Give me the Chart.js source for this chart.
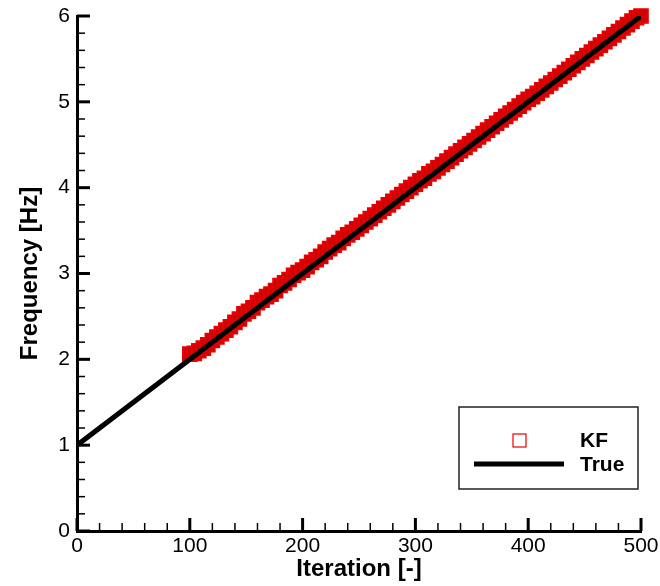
<!DOCTYPE html>
<html>
<head>
<meta charset="utf-8">
<script src="https://cdn.jsdelivr.net/npm/chart.js@4/dist/chart.umd.min.js"></script>
<style>
  html, body { margin: 0; padding: 0; background: #fff; }
  #wrap { width: 660px; height: 586px; }
</style>
</head>
<body>
<div id="wrap"><canvas id="chart" width="660" height="586"></canvas></div>
<script>
'use strict';

// ── Data ──────────────────────────────────────────────────────────────────────

const kfIterations = [
  100, 104, 108, 112, 116, 120, 124, 128, 132, 136, 140, 144, 148, 152, 156, 160, 164, 168, 172, 176,
  180, 184, 188, 192, 196, 200, 204, 208, 212, 216, 220, 224, 228, 232, 236, 240, 244, 248, 252, 256,
  260, 264, 268, 272, 276, 280, 284, 288, 292, 296, 300, 304, 308, 312, 316, 320, 324, 328, 332, 336,
  340, 344, 348, 352, 356, 360, 364, 368, 372, 376, 380, 384, 388, 392, 396, 400, 404, 408, 412, 416,
  420, 424, 428, 432, 436, 440, 444, 448, 452, 456, 460, 464, 468, 472, 476, 480, 484, 488, 492, 496, 500
];
const kfFrequency = [
  2.06, 2.07, 2.10, 2.13, 2.17, 2.22, 2.26, 2.30, 2.34, 2.38, 2.43, 2.47, 2.53, 2.56, 2.60, 2.66, 2.69, 2.73, 2.76, 2.80,
  2.86, 2.89, 2.93, 2.98, 3.01, 3.04, 3.08, 3.13, 3.16, 3.20, 3.25, 3.29, 3.33, 3.36, 3.41, 3.45, 3.48, 3.52, 3.56, 3.60,
  3.64, 3.68, 3.72, 3.76, 3.80, 3.84, 3.88, 3.92, 3.96, 4.00, 4.04, 4.08, 4.11, 4.16, 4.19, 4.23, 4.27, 4.31, 4.35, 4.39,
  4.43, 4.47, 4.51, 4.55, 4.59, 4.63, 4.67, 4.71, 4.75, 4.79, 4.83, 4.87, 4.91, 4.95, 4.99, 5.03, 5.06, 5.10, 5.14, 5.18,
  5.22, 5.26, 5.30, 5.34, 5.38, 5.42, 5.46, 5.50, 5.54, 5.58, 5.62, 5.66, 5.70, 5.74, 5.78, 5.82, 5.86, 5.90, 5.94, 5.98, 6.00
];

const trueIterations = [0, 500];
const trueFrequency  = [1, 6];

const xLabels = ['0', '100', '200', '300', '400', '500'];
const yLabels = ['0', '1', '2', '3', '4', '5', '6'];

const RED   = '#e60000';
const BLACK = '#000000';
const FONT  = "'Liberation Sans', Arial, Helvetica, sans-serif";

// ── Plugins ───────────────────────────────────────────────────────────────────

// inward tick marks, major on labelled values, minor otherwise
const inwardTicks = {
  id: 'inwardTicks',
  afterDraw(chart) {
    const { ctx, chartArea: a, scales: { x, y } } = chart;
    ctx.save();
    ctx.strokeStyle = BLACK;
    x.ticks.forEach(t => {
      const major = Math.abs(t.value % 100) < 1e-6;
      const px = x.getPixelForValue(t.value);
      ctx.lineWidth = major ? 3 : 1.5;
      ctx.beginPath();
      ctx.moveTo(px, a.bottom);
      ctx.lineTo(px, a.bottom - (major ? 13 : 8));
      ctx.stroke();
    });
    y.ticks.forEach(t => {
      const major = Math.abs(t.value - Math.round(t.value)) < 1e-6;
      const py = y.getPixelForValue(t.value);
      ctx.lineWidth = major ? 3 : 1.5;
      ctx.beginPath();
      ctx.moveTo(a.left, py);
      ctx.lineTo(a.left + (major ? 13 : 8), py);
      ctx.stroke();
    });
    ctx.restore();
  }
};

// boxed legend in the lower right of the plot
const boxLegend = {
  id: 'boxLegend',
  afterDraw(chart) {
    const { ctx, chartArea: a } = chart;
    const bx = a.right - 182, by = a.bottom - 124, bw = 179, bh = 82;
    ctx.save();
    ctx.fillStyle = '#fff';
    ctx.fillRect(bx, by, bw, bh);
    ctx.strokeStyle = '#222';
    ctx.lineWidth = 1.5;
    ctx.strokeRect(bx, by, bw, bh);

    const kf = chart.data.datasets[1];
    const tr = chart.data.datasets[0];

    ctx.strokeStyle = kf.pointBorderColor;
    ctx.lineWidth = 1.2;
    ctx.strokeRect(bx + 54, by + 27, 13, 13);

    ctx.strokeStyle = tr.borderColor;
    ctx.lineWidth = tr.borderWidth;
    ctx.beginPath();
    ctx.moveTo(bx + 15, by + 57);
    ctx.lineTo(bx + 105, by + 57);
    ctx.stroke();

    ctx.fillStyle = BLACK;
    ctx.font = `bold 21px ${FONT}`;
    ctx.textBaseline = 'middle';
    ctx.fillText(kf.label, bx + 121, by + 34);
    ctx.fillText(tr.label, bx + 121, by + 58);
    ctx.restore();
  }
};

// ── Chart ─────────────────────────────────────────────────────────────────────

new Chart(document.getElementById('chart'), {
  type: 'scatter',
  data: {
    datasets: [
      {
        label: 'True',
        type: 'line',
        data: trueIterations.map((x, i) => ({ x, y: trueFrequency[i] })),
        borderColor: BLACK,
        borderWidth: 5,
        pointRadius: 0,
        fill: false,
        tension: 0,
      },
      {
        label: 'KF',
        data: kfIterations.map((x, i) => ({ x, y: kfFrequency[i] })),
        clip: false,
        pointStyle: 'rect',
        pointRadius: 10,
        pointBorderWidth: 1.5,
        pointBorderColor: RED,
        pointBackgroundColor: 'rgb(212,0,0)',
      },
    ],
  },
  options: {
    responsive: false,
    animation: false,
    layout: { padding: { left: 0, top: 16, right: 19, bottom: 0 } },
    plugins: { legend: { display: false }, tooltip: { enabled: false } },
    scales: {
      x: {
        type: 'linear',
        min: 0,
        max: 500,
        afterFit: s => { s.height = 55; s.paddingLeft = 0; s.paddingRight = 0; },
        grid: { display: false, drawTicks: false },
        border: { display: true, color: BLACK, width: 3 },
        ticks: {
          stepSize: 20,
          autoSkip: false,
          maxRotation: 0,
          padding: 3,
          color: BLACK,
          font: { family: FONT, size: 21 },
          callback: v => (Math.abs(v % 100) < 1e-6 ? xLabels[Math.round(v / 100)] : ''),
        },
        title: {
          display: true,
          text: 'Iteration [-]',
          color: BLACK,
          font: { family: FONT, size: 24, weight: 'bold' },
          padding: { top: 0, bottom: 2 },
        },
      },
      y: {
        type: 'linear',
        min: 0,
        max: 6,
        afterFit: s => { s.width = 77; s.paddingTop = 0; s.paddingBottom = 0; },
        grid: { display: false, drawTicks: false },
        border: { display: true, color: BLACK, width: 3 },
        ticks: {
          stepSize: 0.2,
          autoSkip: false,
          padding: 7,
          color: BLACK,
          font: { family: FONT, size: 21 },
          callback: v => (Math.abs(v - Math.round(v)) < 1e-6 ? yLabels[Math.round(v)] : ''),
        },
        title: {
          display: true,
          text: 'Frequency [Hz]',
          color: BLACK,
          font: { family: FONT, size: 24, weight: 'bold' },
          padding: { top: 16, bottom: 0 },
        },
      },
    },
  },
  plugins: [inwardTicks, boxLegend],
});
</script>
</body>
</html>
